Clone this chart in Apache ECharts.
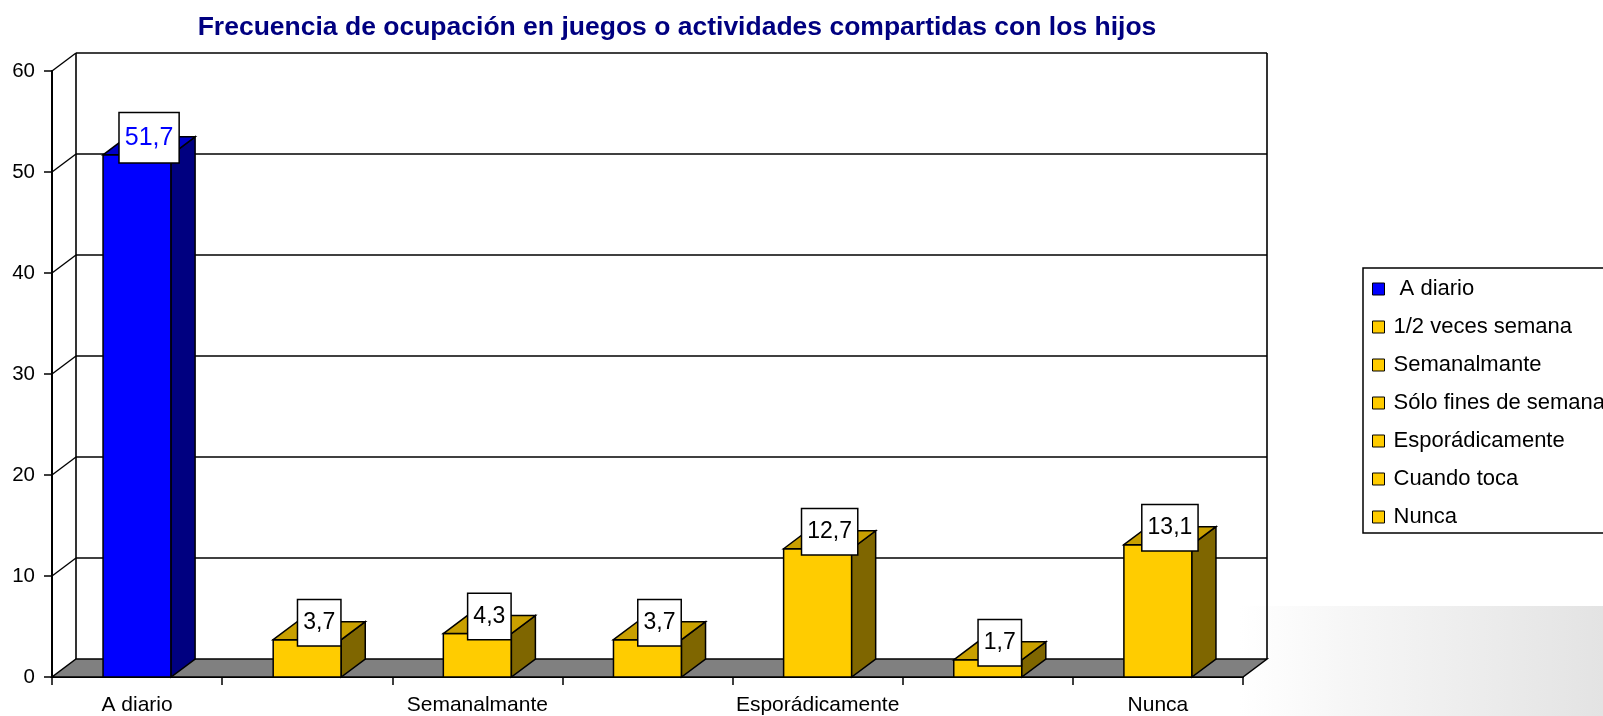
<!DOCTYPE html>
<html>
<head>
<meta charset="utf-8">
<title>Frecuencia de ocupación</title>
<script src="https://cdn.jsdelivr.net/npm/echarts@6/dist/echarts.min.js"></script>
<style>
  html, body { margin: 0; padding: 0; background: #fff; }
  #chart { width: 1603px; height: 716px; }
</style>
</head>
<body>
<div id="chart"></div>
<script>
// datos
const categories = ['A diario', '1/2 veces semana', 'Semanalmante', 'Sólo fines de semana', 'Esporádicamente', 'Cuando toca', 'Nunca']
const legendNames = [' A diario', '1/2 veces semana', 'Semanalmante', 'Sólo fines de semana', 'Esporádicamente', 'Cuando toca', 'Nunca']
const values = [51.7, 3.7, 4.3, 3.7, 12.7, 1.7, 13.1]
const yTicks = [0, 10, 20, 30, 40, 50, 60]

// estilo 3D
const DX = 24
const DY = 18
const FONT = '"Liberation Sans", Arial, sans-serif'
const blue = { front: '#0000ff', top: '#0000c8', side: '#000080', text: '#0000ff', size: 25, pad: [12, 5] }
const gold = { front: '#ffcc00', top: '#c9a000', side: '#7f6600', text: '#000000', size: 23, pad: [11, 5] }
const palettes = values.map((v, i) => (i === 0 ? blue : gold))

const fmt = v => v.toFixed(1).replace('.', ',')

const chart = echarts.init(document.getElementById('chart'))

function frameItem(params, api) {
  const v = api.value(1)
  const y = api.coord([0, v])[1]
  const y0 = api.coord([0, 0])[1]
  const cs = params.coordSys
  const xl = cs.x
  const xr = cs.x + cs.width
  const line = { stroke: '#000', lineWidth: 1.4 }
  const children = []
  if (v === 0) {
    children.push({
      type: 'polygon',
      shape: { points: [[xl, y], [xr, y], [xr + DX, y - DY], [xl + DX, y - DY]] },
      style: { fill: '#808080', stroke: '#000', lineWidth: 1.5 }
    })
  } else {
    children.push({ type: 'line', shape: { x1: xl, y1: y, x2: xl + DX, y2: y - DY }, style: line })
    children.push({ type: 'line', shape: { x1: xl + DX, y1: y - DY, x2: xr + DX, y2: y - DY }, style: line })
  }
  if (v === yTicks[yTicks.length - 1]) {
    children.push({ type: 'line', shape: { x1: xl + DX, y1: y - DY, x2: xl + DX, y2: y0 - DY }, style: { stroke: '#000', lineWidth: 1.6 } })
    children.push({ type: 'line', shape: { x1: xr + DX, y1: y - DY, x2: xr + DX, y2: y0 - DY }, style: { stroke: '#000', lineWidth: 1.6 } })
  }
  return { type: 'group', children }
}

function barItem(k) {
  return function (params, api) {
    const i = api.value(0)
    const v = api.value(1)
    const top = api.coord([i, v])
    const base = api.coord([i, 0])
    const hw = api.size([1, 0])[0] * 0.2
    const x0 = top[0] - hw
    const x1 = top[0] + hw
    const yt = top[1]
    const yb = base[1]
    const pal = palettes[k]
    const edge = { stroke: '#000', lineWidth: 1.5, lineJoin: 'miter' }
    return {
      type: 'group',
      children: [
        { type: 'polygon', shape: { points: [[x0, yt], [x1, yt], [x1, yb], [x0, yb]] }, style: { fill: pal.front, ...edge } },
        { type: 'polygon', shape: { points: [[x1, yt], [x1 + DX, yt - DY], [x1 + DX, yb - DY], [x1, yb]] }, style: { fill: pal.side, ...edge } },
        { type: 'polygon', shape: { points: [[x0, yt], [x0 + DX, yt - DY], [x1 + DX, yt - DY], [x1, yt]] }, style: { fill: pal.top, ...edge } },
        {
          type: 'text',
          x: top[0] + DX / 2,
          y: yt - DY + 1,
          style: {
            text: fmt(v),
            align: 'center',
            verticalAlign: 'middle',
            fontFamily: FONT,
            fontSize: pal.size,
            fill: pal.text,
            backgroundColor: '#fff',
            borderColor: '#000',
            borderWidth: 1.5,
            padding: pal.pad
          }
        }
      ]
    }
  }
}

const barSeries = values.map((v, k) => ({
  name: legendNames[k],
  type: 'custom',
  clip: false,
  z: 3,
  itemStyle: { color: palettes[k].front },
  encode: { x: 0, y: 1 },
  data: [[k, v]],
  renderItem: barItem(k)
}))

chart.setOption({
  backgroundColor: '#fff',
  animation: false,
  graphic: [
    {
      type: 'rect',
      z: 0,
      silent: true,
      shape: { x: 1240, y: 606, width: 363, height: 110 },
      style: {
        fill: new echarts.graphic.LinearGradient(0, 0, 1, 0, [
          { offset: 0, color: '#ffffff' },
          { offset: 0.3, color: '#f6f6f6' },
          { offset: 1, color: '#e3e3e3' }
        ])
      }
    },
    {
      type: 'text',
      z: 10,
      x: 677,
      y: 14,
      style: {
        text: 'Frecuencia de ocupación en juegos o actividades compartidas con los hijos',
        align: 'center',
        verticalAlign: 'top',
        fontFamily: FONT,
        fontSize: 26.5,
        fontWeight: 'bold',
        fill: '#000080'
      }
    }
  ],
  legend: {
    orient: 'vertical',
    left: 1363,
    top: 268,
    data: legendNames.map(n => ({ name: n, icon: 'rect' })),
    itemWidth: 12,
    itemHeight: 12,
    itemGap: 16,
    padding: [10, 8, 5, 9],
    borderColor: '#000',
    borderWidth: 1.5,
    backgroundColor: '#fff',
    itemStyle: { borderColor: '#000', borderWidth: 1 },
    textStyle: { fontFamily: FONT, fontSize: 22, lineHeight: 22, color: '#000', padding: [0, 0, 0, 4] },
    selectedMode: false
  },
  grid: { left: 52, right: 360, top: 71, bottom: 39, outerBoundsMode: 'none' },
  xAxis: {
    type: 'category',
    data: categories,
    boundaryGap: true,
    axisLine: { lineStyle: { color: '#000', width: 2 } },
    axisTick: { show: true, interval: 0, length: 8, lineStyle: { color: '#000', width: 1.5 } },
    axisLabel: { interval: 1, fontFamily: FONT, fontSize: 21, color: '#000', margin: 18 },
    splitLine: { show: false }
  },
  yAxis: {
    type: 'value',
    min: 0,
    max: 60,
    interval: 10,
    axisLine: { show: true, lineStyle: { color: '#000', width: 2 } },
    axisTick: { show: true, length: 8, lineStyle: { color: '#000', width: 1.5 } },
    axisLabel: { fontFamily: FONT, fontSize: 20.5, color: '#000', margin: 17 },
    splitLine: { show: false }
  },
  series: [
    {
      name: 'frame',
      type: 'custom',
      clip: false,
      z: 1,
      silent: true,
      encode: { x: 0, y: 1 },
      data: yTicks.map(v => [0, v]),
      renderItem: frameItem
    },
    ...barSeries
  ]
})
</script>
</body>
</html>
